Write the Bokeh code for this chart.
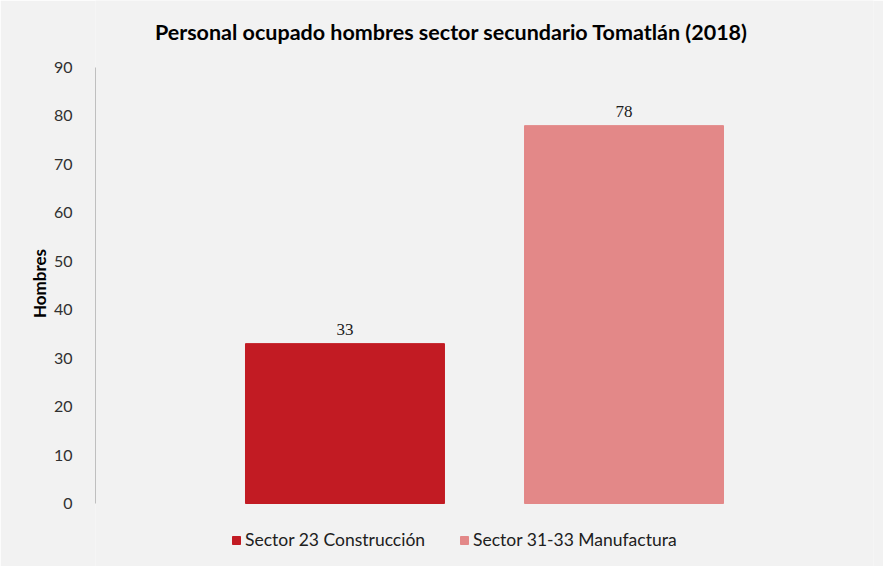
from bokeh.plotting import figure
from bokeh.models import ColumnDataSource, Range1d, LabelSet, Label, Legend, LegendItem
from bokeh.embed import file_html
from bokeh.resources import INLINE

# Data
series = ["Sector 23 Construcción", "Sector 31-33 Manufactura"]
values = [33, 78]
colors = ["#C21B23", "#E38888"]
y_ticks = [0, 10, 20, 30, 40, 50, 60, 70, 80, 90]
title_text = "Personal ocupado hombres sector secundario Tomatlán (2018)"
y_label = "Hombres"

FONT = "Lato"
BG = "#F2F2F2"
W, H = 883, 566
AX_TOP, AX_BOTTOM = 67, 503        # pixel rows of 90 and 0
px_per_unit = (AX_BOTTOM - AX_TOP) / (y_ticks[-1] - y_ticks[0])
y_start = y_ticks[0] - (H - AX_BOTTOM) / px_per_unit
y_end = y_ticks[-1] + AX_TOP / px_per_unit

xpos = [i + 0.5 for i in range(len(series))]
src = ColumnDataSource(dict(x=xpos, top=values, color=colors, name=series,
                            lab=[str(v) for v in values]))

p = figure(width=W, height=H, output_backend="svg", toolbar_location=None,
           x_range=Range1d(-0.394, 2.394), y_range=Range1d(y_start, y_end),
           min_border_left=95, min_border_right=10, min_border_top=0,
           min_border_bottom=0)
p.background_fill_color = BG
p.border_fill_color = BG
p.outline_line_color = None
p.xgrid.visible = False
p.ygrid.visible = False
p.xaxis.visible = False

r = p.vbar(x="x", top="top", width=0.713, color="color", source=src)

yax = p.yaxis[0]
yax.ticker = y_ticks
yax.bounds = (y_ticks[0], y_ticks[-1])
yax.axis_line_color = "#BFBFBF"
yax.major_tick_line_color = None
yax.minor_tick_line_color = None
yax.major_label_standoff = 17
yax.major_label_text_font = FONT
yax.major_label_text_font_size = "16px"
yax.major_label_text_color = "#303030"
yax.axis_label = y_label
yax.axis_label_text_font = FONT
yax.axis_label_text_font_size = "17px"
yax.axis_label_text_font_style = "bold"
yax.axis_label_text_color = "#000000"
yax.axis_label_standoff = 1

labels = LabelSet(x="x", y="top", text="lab", source=src, text_align="center",
                  text_baseline="alphabetic", y_offset=9, text_font=FONT,
                  text_font_size="17px", text_color="#202020")
p.add_layout(labels)

title = Label(x=356, y=H - 31, x_units="screen", y_units="screen", text=title_text,
              text_align="center", text_baseline="middle", text_font=FONT,
              text_font_size="21.5px", text_font_style="bold", text_color="#000000")
p.add_layout(title)

items = [LegendItem(label=series[i], renderers=[r], index=i) for i in range(len(series))]
legend = Legend(items=items, orientation="horizontal", location=(136, 16),
                glyph_width=10, glyph_height=10, label_standoff=4, spacing=34,
                padding=0, margin=0, border_line_color=None,
                background_fill_alpha=0, label_text_font=FONT,
                label_text_font_size="17.5px", label_text_color="#202020")
p.add_layout(legend)

open("out.html", "w").write(file_html(p, INLINE))
